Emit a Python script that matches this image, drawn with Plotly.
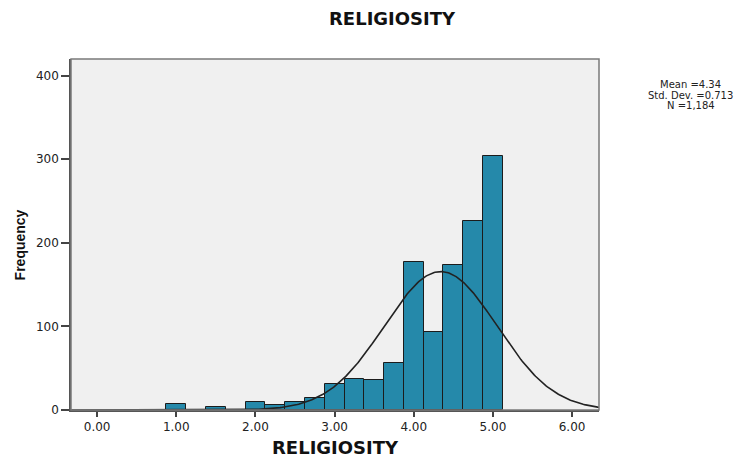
import numpy as np
import plotly.graph_objects as go

# Histogram bins (centres, width 0.25) and frequencies
bin_centers = [1.00, 1.50, 2.00, 2.25, 2.50, 2.75, 3.00, 3.25, 3.50, 3.75,
               4.00, 4.25, 4.50, 4.75, 5.00]
frequencies = [7, 4, 10, 6, 10, 14, 31, 37, 36, 56,
               177, 93, 173, 226, 304]
bin_width = 0.25

# Summary statistics
mean_val = 4.34
std_val = 0.713
n_val = 1184

x_ticks = [0, 1, 2, 3, 4, 5, 6]
x_tick_labels = ["0.00", "1.00", "2.00", "3.00", "4.00", "5.00", "6.00"]
y_ticks = [0, 100, 200, 300, 400]

x_range = [-0.33, 6.34]
y_range = [0, 420]

# Normal curve scaled to the histogram counts
xs = np.linspace(x_range[0], x_range[1], 400)
ys = n_val * bin_width / (std_val * np.sqrt(2 * np.pi)) * np.exp(-0.5 * ((xs - mean_val) / std_val) ** 2)

fig = go.Figure()
fig.add_trace(go.Bar(
    x=bin_centers, y=frequencies, width=bin_width,
    marker=dict(color="#2589AA", line=dict(color="#1c1c1c", width=1)),
    hoverinfo="x+y",
))
fig.add_trace(go.Scatter(
    x=xs, y=ys, mode="lines",
    line=dict(color="#222222", width=1.6),
    hoverinfo="skip",
))

tick_font = dict(family="DejaVu Sans", size=12, color="#222222")

fig.update_layout(
    width=747, height=460,
    margin=dict(l=71, r=148, t=59, b=50),
    paper_bgcolor="white",
    plot_bgcolor="#F0F0F0",
    showlegend=False,
    bargap=0,
    xaxis=dict(
        range=x_range, tickvals=x_ticks, ticktext=x_tick_labels,
        ticks="outside", ticklen=5, tickwidth=1.5, tickcolor="#444444",
        showline=True, linecolor="#555555", linewidth=1.5,
        showgrid=False, zeroline=False, tickfont=tick_font,
    ),
    yaxis=dict(
        range=y_range, tickvals=y_ticks,
        ticks="outside", ticklen=8, tickwidth=1.5, tickcolor="#444444",
        showline=True, linecolor="#555555", linewidth=1.5,
        showgrid=False, zeroline=False, tickfont=tick_font,
    ),
    shapes=[dict(
        type="rect", xref="paper", yref="paper", x0=0, y0=0, x1=1, y1=1,
        line=dict(color="#7a7a7a", width=1.5), layer="above",
    )],
)

stats_font = dict(family="DejaVu Sans", size=10, color="#222222")
annotations = [
    dict(text="<b>RELIGIOSITY</b>", x=0.608, y=1.1168,
         font=dict(family="DejaVu Sans", size=18, color="#111111")),
    dict(text="<b>RELIGIOSITY</b>", x=0.5, y=-0.1074,
         font=dict(family="DejaVu Sans", size=18, color="#111111")),
    dict(text="<b>Frequency</b>", x=-0.0959, y=0.47, textangle=-90,
         font=dict(family="Liberation Sans", size=14, color="#111111")),
    dict(text=f"Mean ={mean_val:.2f}", x=1.1735, y=0.926, font=stats_font),
    dict(text=f"Std. Dev. ={std_val:.3f}", x=1.1735, y=0.897, font=stats_font),
    dict(text=f"N ={n_val:,}", x=1.1735, y=0.868, font=stats_font),
]
for a in annotations:
    fig.add_annotation(xref="paper", yref="paper", showarrow=False,
                       xanchor="center", yanchor="middle", **a)

fig.write_html("out.html")
